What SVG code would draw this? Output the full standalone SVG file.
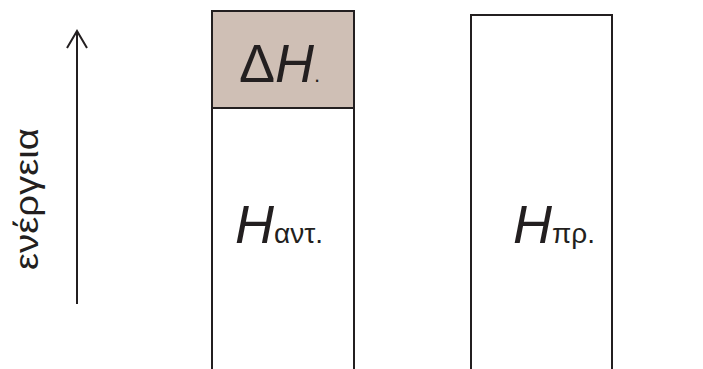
<svg xmlns="http://www.w3.org/2000/svg" width="703" height="369" viewBox="0 0 703 369">
<style>
.box{fill:#ffffff;stroke:#231f20;stroke-width:2}
.dh{fill:#cfbfb5;stroke:#231f20;stroke-width:2}
.ax{fill:none;stroke:#231f20;stroke-width:2}
text{font-family:"Liberation Sans",Arial,sans-serif;fill:#231f20}
.big{font-size:54px}
.sub{font-size:28px}
</style>
<rect width="703" height="369" fill="#ffffff"/>
<g id="axis">
<line class="ax" x1="77" y1="304" x2="77" y2="31"/>
<polyline class="ax" points="67,48 77,31 87,48"/>
<text transform="translate(38,199) rotate(-90)" text-anchor="middle" font-size="33" textLength="142" lengthAdjust="spacingAndGlyphs">ενέργεια</text>
</g>
<g id="reactants">
<rect class="box" x="212" y="108" width="142" height="270"/>
<text x="235" y="243"><tspan class="big" font-style="italic">H</tspan><tspan class="sub">αντ.</tspan></text>
</g>
<g id="deltaH">
<rect class="dh" x="212" y="11" width="142" height="97"/>
<text x="239" y="82"><tspan class="big">Δ</tspan><tspan class="big" font-style="italic">H</tspan><tspan font-size="22">.</tspan></text>
</g>
<g id="products">
<rect class="box" x="471" y="15" width="141" height="370"/>
<text x="513" y="243"><tspan class="big" font-style="italic">H</tspan><tspan class="sub">πρ.</tspan></text>
</g>
</svg>
